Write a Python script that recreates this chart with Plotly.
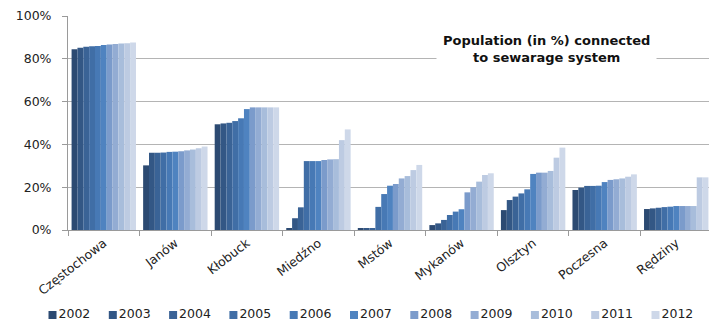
import plotly.graph_objects as go

# ---- data ----
municipalities = ["Częstochowa", "Janów", "Kłobuck", "Miedźno", "Mstów",
                  "Mykanów", "Olsztyn", "Poczesna", "Rędziny"]
years = ["2002", "2003", "2004", "2005", "2006", "2007",
         "2008", "2009", "2010", "2011", "2012"]

czestochowa = [84.5, 85.2, 85.6, 85.9, 86.0, 86.4, 86.7, 86.9, 87.1, 87.3, 87.6]
janow       = [30.2, 36.1, 36.1, 36.2, 36.5, 36.6, 36.8, 37.2, 37.6, 38.2, 39.0]
klobuck     = [49.4, 49.8, 50.1, 50.9, 52.2, 56.5, 57.3, 57.3, 57.3, 57.3, 57.3]
miedzno     = [0.6, 5.5, 10.6, 32.2, 32.2, 32.2, 32.7, 33.0, 33.1, 42.0, 47.0]
mstow       = [0.5, 0.5, 0.5, 10.8, 16.8, 20.7, 21.5, 24.1, 25.2, 28.0, 30.4]
mykanow     = [2.3, 3.1, 4.7, 7.0, 8.6, 9.7, 17.6, 20.0, 22.6, 25.7, 26.5]
olsztyn     = [9.3, 14.0, 15.6, 17.1, 19.0, 26.2, 26.8, 26.8, 27.6, 33.8, 38.5]
poczesna    = [18.7, 19.8, 20.6, 20.6, 20.7, 22.4, 23.4, 23.7, 24.1, 24.9, 26.0]
redziny     = [9.8, 10.1, 10.4, 10.7, 10.9, 11.2, 11.2, 11.2, 11.2, 24.6, 24.6]

rows = [czestochowa, janow, klobuck, miedzno, mstow, mykanow, olsztyn, poczesna, redziny]

colors = ["#2C4A72", "#335785", "#3A6396", "#406EA6", "#4779B5", "#4F83C0",
          "#7B9BCB", "#93ACD3", "#A8BDDB", "#BDCBE2", "#CED8E9"]

y_ticks = [0, 20, 40, 60, 80, 100]

FONT = "DejaVu Sans"
FS = 12.5
TXT = "#222222"
GRID = "#B4B4B4"

W, H = 709, 325
ML, MR, MT, MB = 0, 0, 16, 4
PH = H - MT - MB
plot_left, plot_bottom = 68, 230

fig = go.Figure()

for j, yr in enumerate(years):
    fig.add_trace(go.Bar(
        x=municipalities,
        y=[r[j] for r in rows],
        name=yr,
        marker=dict(color=colors[j], line=dict(width=0)),
        showlegend=False,
        xaxis="x", yaxis="y",
    ))

# legend strip drawn as a row of square markers with labels
fig.add_trace(go.Scatter(
    x=years, y=[0.5] * len(years),
    mode="markers+text",
    marker=dict(symbol="square", size=8, color=colors),
    text=years, textposition="middle right",
    textfont=dict(family=FONT, size=FS, color=TXT),
    showlegend=False, hoverinfo="skip",
    xaxis="x2", yaxis="y2", cliponaxis=False,
))

spacing = 60.3
first = 52.5
a = -first / spacing
b = a + W / spacing

fig.update_layout(
    width=W, height=H,
    margin=dict(l=ML, r=MR, t=MT, b=MB, autoexpand=False),
    paper_bgcolor="white", plot_bgcolor="white",
    barmode="group", bargap=0.1, bargroupgap=0,
    showlegend=False,
    font=dict(family=FONT, size=FS, color=TXT),
    xaxis=dict(
        domain=[plot_left / W, 1],
        type="category",
        range=[-0.5, 8.458],
        tickangle=-38,
        automargin=False,
        showline=True, linecolor="#9A9A9A", linewidth=1,
        ticks="outside", ticklen=5, tickcolor="#9A9A9A",
        tickson="boundaries",
        showgrid=False,
        tickfont=dict(family=FONT, size=FS, color=TXT),
    ),
    yaxis=dict(
        domain=[(H - MB - plot_bottom) / PH, 1],
        range=[0, 100],
        tickvals=y_ticks,
        ticktext=[f"{v}%" for v in y_ticks],
        automargin=False,
        showline=True, linecolor="#9A9A9A", linewidth=1,
        ticks="outside", ticklen=5, tickcolor="#9A9A9A",
        ticklabelstandoff=8,
        showgrid=True, gridcolor=GRID, gridwidth=1,
        zeroline=False,
        tickfont=dict(family=FONT, size=FS, color=TXT),
    ),
    xaxis2=dict(
        domain=[0, 1], anchor="y2", type="category",
        range=[a, b], visible=False, fixedrange=True, automargin=False,
    ),
    yaxis2=dict(
        domain=[0, 12 / PH], anchor="x2", range=[0, 1],
        visible=False, fixedrange=True, automargin=False,
    ),
    annotations=[dict(
        text="<b>Population (in %) connected<br>to sewarage system</b>",
        xref="paper", yref="paper",
        x=546 / W, y=(H - MB - 49) / PH,
        xanchor="center", yanchor="middle",
        showarrow=False, align="center",
        bgcolor="white", borderpad=6,
        font=dict(family=FONT, size=13, color="#111111"),
    )],
)

fig.write_html("out.html")
